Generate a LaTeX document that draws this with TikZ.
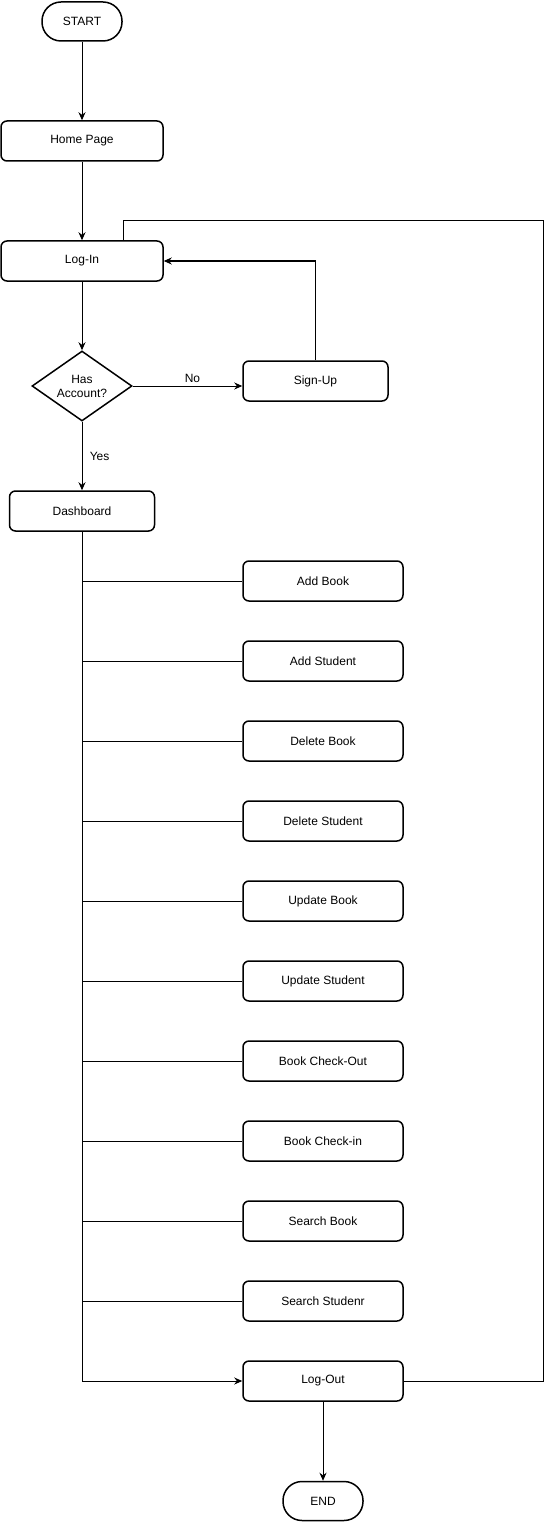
\documentclass[tikz,border=0pt]{standalone}
\usepackage{fontspec}
\setmainfont{Liberation Sans}
\usepackage{tikz}
\usetikzlibrary{positioning, shapes.geometric, arrows.meta}
\tikzstyle{arrow} = [line width=1pt,-{Stealth[length=8pt,width=7pt]}]
\tikzstyle{link} = [line width=1pt]

\begin{document}
\begin{tikzpicture}[x=1pt, y=1pt, font=\fontsize{12pt}{14pt}\selectfont]
	\tikzstyle{stepbox}=[draw=black,line width=1.5pt,rounded corners=6pt,minimum width=160pt,minimum height=40pt,inner sep=0pt]
	\tikzstyle{term}=[draw=black,line width=1.5pt,rounded corners=19pt,minimum width=80pt,minimum height=39pt,inner sep=0pt]
	\tikzstyle{decide}=[draw=black,line width=1.5pt,diamond,aspect=1.43,minimum width=100pt,minimum height=70pt,inner sep=0pt,align=center]
	\useasboundingbox (0,0) rectangle (545,-1522);
	% left column
	\node[term]    (start)  at (82,-21.5)                        {START};
	\node[stepbox,minimum width=162pt] (home)[below of=start, node distance=119.5pt] {Home Page};
	\node[stepbox,minimum width=162pt] (login)[below of=home, node distance=120pt]   {Log-In};
	\node[decide]  (dec)[below of=login, node distance=125pt]    {Has\\Account?};
	\node[stepbox,minimum width=145pt] (dash)[below of=dec, node distance=125pt]     {Dashboard};
	\node[stepbox,minimum width=145pt] (signup) at (315.5,-381)  {Sign-Up};
	% right column
	\node[stepbox] (addbook)  at (323,-581)                       {Add Book};
	\node[stepbox] (addstu)[below of=addbook, node distance=80pt] {Add Student};
	\node[stepbox] (delbook)[below of=addstu, node distance=80pt] {Delete Book};
	\node[stepbox] (delstu)[below of=delbook, node distance=80pt] {Delete Student};
	\node[stepbox] (updbook)[below of=delstu, node distance=80pt] {Update Book};
	\node[stepbox] (updstu)[below of=updbook, node distance=80pt] {Update Student};
	\node[stepbox] (chkout)[below of=updstu, node distance=80pt]  {Book Check-Out};
	\node[stepbox] (chkin)[below of=chkout, node distance=80pt]   {Book Check-in};
	\node[stepbox] (srchbook)[below of=chkin, node distance=80pt] {Search Book};
	\node[stepbox] (srchstu)[below of=srchbook, node distance=80pt] {Search Studenr};
	\node[stepbox] (logout)[below of=srchstu, node distance=80pt] {Log-Out};
	\node[term]    (endn)[below of=logout, node distance=120pt]   {END};
	\coordinate (loopc) at (543,-221);

	\draw[arrow] (start) -- (home);
	\draw[arrow] (home) -- (login);
	\draw[arrow] (login) -- (dec);
	\draw[arrow] (dec.east) -- node[above, xshift=5pt]{No} (dec.east -| signup.west);
	\draw[arrow] (dec) -- node[right, xshift=4pt]{Yes} (dash);
	\draw[arrow] (signup.north) |- (login.east);
	\draw[link] (logout.east) -| (loopc) -| ([xshift=41pt]login.north);
	\draw[arrow] (dash.south) |- (logout.west);
	\foreach \b in {addbook,addstu,delbook,delstu,updbook,updstu,chkout,chkin,srchbook,srchstu}
		\draw[link] (dash.south |- \b.west) -- (\b.west);
	\draw[arrow] (logout) -- (endn);
\end{tikzpicture}
\end{document}
